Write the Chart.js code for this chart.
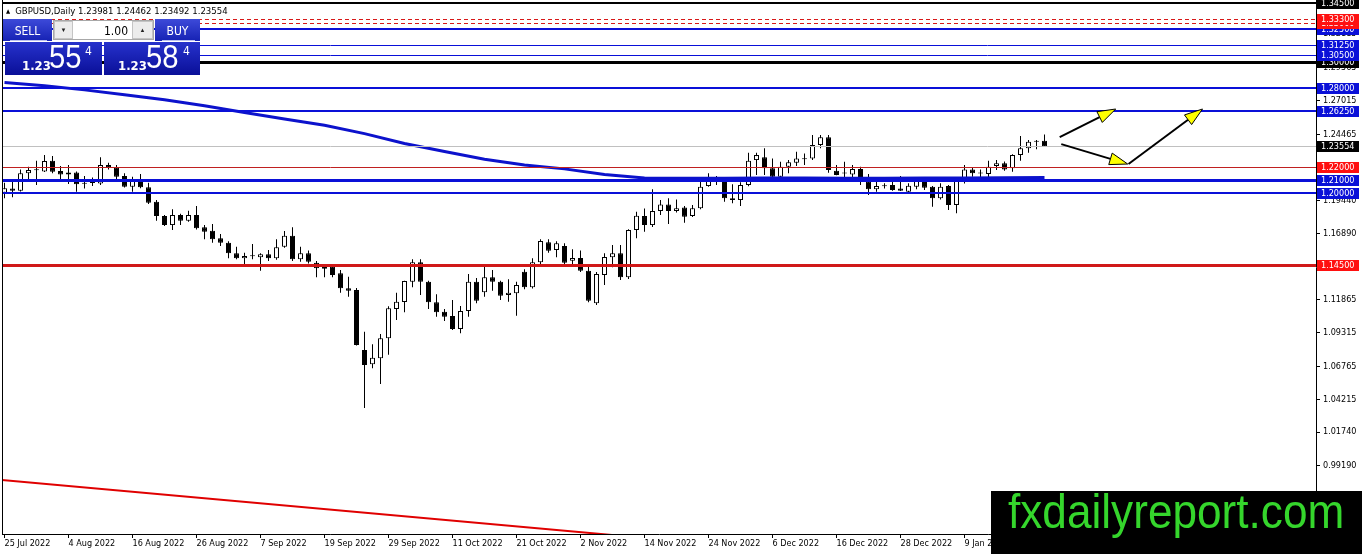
<!DOCTYPE html>
<html>
<head>
<meta charset="utf-8">
<title>GBPUSD Daily</title>
<script src="https://cdn.jsdelivr.net/npm/chart.js@4.4.0/dist/chart.umd.min.js"></script>
<style>
  html, body { margin: 0; padding: 0; background: #fff; }
  #wrap { position: relative; width: 1362px; height: 554px; overflow: hidden; }
  #wrap canvas { position: absolute; left: 0; top: 0; }
  .abs { position: absolute; white-space: nowrap; }
  .cond { font-family: 'DejaVu Sans Condensed', 'Liberation Sans', sans-serif; }
  #title { left: 6px; top: 6px; font-size: 9.5px; line-height: 10px; color: #000; }
  #title .tri { font-size: 6px; vertical-align: 1px; margin-right: 5px; }
  .btn { background: linear-gradient(#3d4ad9, #1622b4); color: #fff; font-size: 12px; line-height: 12px; text-align: center; }
  .btn .sep { position: absolute; left: 7px; right: 5px; bottom: 0; height: 1px; background: #b9c0f0; }
  .btn span { position: absolute; left: 0; right: 0; top: 6px; }
  .price { background: linear-gradient(#2632cc, #0a0f98); color: #fff; }
  .spin { background: #fff; border: 1px solid #a8a8a8; box-sizing: border-box; }
  .arrowbtn { background: #ececec; border: 1px solid #c4c4c4; box-sizing: border-box; font-size: 6px; line-height: 16px; text-align: center; color: #222; }
  .big { font-family: 'Liberation Sans', Arial, sans-serif; font-size: 34px; line-height: 34px; transform: scaleX(0.86); transform-origin: left top; }
  .small { font-size: 13px; line-height: 13px; font-weight: bold; }
  .sup { font-size: 12px; line-height: 12px; }
  #brand { left: 991px; top: 491px; width: 371px; height: 63px; background: #000; }
  #brand span { position: absolute; left: 17px; top: -3px; font-family: 'Liberation Sans', Arial, sans-serif; font-size: 48px; line-height: 48px; color: #35d62c; transform: scaleX(0.92); transform-origin: left top; }
</style>
</head>
<body>
<div id="wrap">
  <canvas id="fx-chart" width="1362" height="554"></canvas>
  <div id="title" class="abs cond"><span class="tri">&#9650;</span><span id="title-text"></span></div>

  <div class="abs btn cond" style="left:3px; top:19px; width:49px; height:22px;"><span>SELL</span><div class="sep"></div></div>
  <div class="abs spin" style="left:53px; top:20px; width:101px; height:20px;"></div>
  <div class="abs arrowbtn" style="left:54px; top:21px; width:19px; height:18px;">&#9660;</div>
  <div class="abs cond" id="lots" style="left:88px; top:25px; width:40px; text-align:right; font-size:12px; line-height:12px;"></div>
  <div class="abs arrowbtn" style="left:132px; top:21px; width:21px; height:18px;">&#9650;</div>
  <div class="abs btn cond" style="left:155px; top:19px; width:45px; height:22px;"><span>BUY</span><div class="sep"></div></div>

  <div class="abs price" style="left:5px; top:42px; width:97px; height:33px;"></div>
  <div class="abs price" style="left:104px; top:42px; width:96px; height:33px;"></div>
  <div class="abs small cond" id="bid-a" style="left:22px; top:59px; color:#fff;"></div>
  <div class="abs big" id="bid-b" style="left:49px; top:39px; color:#fff;"></div>
  <div class="abs sup cond" id="bid-c" style="left:85px; top:45px; color:#fff;"></div>
  <div class="abs small cond" id="ask-a" style="left:118px; top:59px; color:#fff;"></div>
  <div class="abs big" id="ask-b" style="left:146px; top:39px; color:#fff;"></div>
  <div class="abs sup cond" id="ask-c" style="left:183px; top:45px; color:#fff;"></div>

  <div id="brand" class="abs"><span>fxdailyreport.com</span></div>
</div>

<script>
/* ============================================= */
/* GBPUSD DAILY - CANDLES, MA, LEVELS */
/* ============================================= */

const FONT = "'DejaVu Sans Condensed', 'Liberation Sans', sans-serif";

// ============ DATA ===========================//

const symbolName = "GBPUSD";
const timeframe = "Daily";
const lotSize = "1.00";

// x-axis date labels, one every 8 bars (bar index in dateTickIdx)
const dateTickIdx = [0, 8, 16, 24, 32, 40, 48, 56, 64, 72, 80, 88, 96, 104, 112, 120];
const dateLabels = ["25 Jul 2022", "4 Aug 2022", "16 Aug 2022", "26 Aug 2022", "7 Sep 2022",
  "19 Sep 2022", "29 Sep 2022", "11 Oct 2022", "21 Oct 2022", "2 Nov 2022", "14 Nov 2022",
  "24 Nov 2022", "6 Dec 2022", "16 Dec 2022", "28 Dec 2022", "9 Jan 2023"];

// right axis tick labels
const priceTicks = [1.32115, 1.29565, 1.27015, 1.24465, 1.21915, 1.19440, 1.16890,
  1.14340, 1.11865, 1.09315, 1.06765, 1.04215, 1.01740, 0.99190];

// daily candles, 25 Jul 2022 .. 23 Jan 2023
const opens = [
  1.2001, 1.2034, 1.2016, 1.2149, 1.2172, 1.2163, 1.2245, 1.2166, 1.2141, 1.2156,
  1.2070, 1.2076, 1.2072, 1.2212, 1.2195, 1.2128, 1.2047, 1.2092, 1.2042, 1.1932,
  1.1823, 1.1754, 1.1831, 1.1787, 1.1831, 1.1737, 1.1711, 1.1653, 1.1619, 1.1538,
  1.1500, 1.1516, 1.1508, 1.1531, 1.1500, 1.1589, 1.1673, 1.1493, 1.1538, 1.1467,
  1.1421, 1.1436, 1.1387, 1.1271, 1.1258, 1.0801, 1.0692, 1.0737, 1.0890, 1.1113,
  1.1167, 1.1322, 1.1470, 1.1322, 1.1165, 1.1093, 1.1060, 1.0961, 1.1098, 1.1322,
  1.1241, 1.1355, 1.1322, 1.1220, 1.1233, 1.1398, 1.1279, 1.1470, 1.1622, 1.1564,
  1.1594, 1.1482, 1.1502, 1.1405, 1.1157, 1.1373, 1.1508, 1.1538, 1.1355, 1.1716,
  1.1823, 1.1754, 1.1861, 1.1912, 1.1861, 1.1889, 1.1823, 1.1882, 1.2052, 1.2103,
  1.2098, 1.1958, 1.1945, 1.2060, 1.2250, 1.2271, 1.2187, 1.2123, 1.2199, 1.2229,
  1.2263, 1.2263, 1.2365, 1.2424, 1.2169, 1.2147, 1.2141, 1.2182, 1.2085, 1.2027,
  1.2050, 1.2060, 1.2034, 1.2008, 1.2047, 1.2092, 1.2047, 1.1958, 1.2052, 1.1907,
  1.2085, 1.2179, 1.2147, 1.2143, 1.2205, 1.2225, 1.2187, 1.2288, 1.2340, 1.2390,
  1.23981];
const highs = [
  1.2077, 1.2098, 1.2179, 1.2199, 1.2245, 1.2288, 1.2281, 1.2205, 1.2212, 1.2163,
  1.2128, 1.2118, 1.2271, 1.2230, 1.2212, 1.2149, 1.2123, 1.2143, 1.2077, 1.1945,
  1.1830, 1.1874, 1.1840, 1.1863, 1.1899, 1.1754, 1.1762, 1.1686, 1.1630, 1.1589,
  1.1543, 1.1609, 1.1539, 1.1564, 1.1645, 1.1709, 1.1737, 1.1589, 1.1560, 1.1480,
  1.1457, 1.1452, 1.1411, 1.1360, 1.1273, 1.0940, 1.0844, 1.0923, 1.1135, 1.1238,
  1.1330, 1.1493, 1.1493, 1.1330, 1.1226, 1.1114, 1.1182, 1.1136, 1.1380, 1.1350,
  1.1442, 1.1411, 1.1330, 1.1340, 1.1322, 1.1416, 1.1500, 1.1645, 1.1645, 1.1630,
  1.1615, 1.1569, 1.1559, 1.1441, 1.1395, 1.1538, 1.1602, 1.1602, 1.1723, 1.1856,
  1.1880, 1.2027, 1.1945, 1.1958, 1.1950, 1.1900, 1.1907, 1.2085, 1.2149, 1.2128,
  1.2111, 1.2065, 1.2080, 1.2306, 1.2306, 1.2340, 1.2263, 1.2237, 1.2250, 1.2314,
  1.2301, 1.2441, 1.2441, 1.2441, 1.2212, 1.2237, 1.2212, 1.2199, 1.2143, 1.2085,
  1.2073, 1.2098, 1.2128, 1.2073, 1.2118, 1.2103, 1.2052, 1.2073, 1.2060, 1.2113,
  1.2212, 1.2197, 1.2179, 1.2245, 1.2250, 1.2240, 1.2295, 1.2433, 1.2403, 1.2403,
  1.24462];
const lows = [
  1.1958, 1.1966, 1.2010, 1.2103, 1.2060, 1.2160, 1.2150, 1.2103, 1.2067, 1.2008,
  1.2034, 1.2052, 1.2060, 1.2179, 1.2103, 1.2040, 1.2008, 1.2035, 1.1915, 1.1787,
  1.1747, 1.1716, 1.1754, 1.1780, 1.1720, 1.1645, 1.1619, 1.1594, 1.1500, 1.1493,
  1.1441, 1.1493, 1.1405, 1.1480, 1.1490, 1.1580, 1.1480, 1.1474, 1.1460, 1.1355,
  1.1355, 1.1355, 1.1238, 1.1207, 1.0835, 1.0358, 1.0661, 1.0541, 1.0764, 1.1030,
  1.1088, 1.1279, 1.1220, 1.1114, 1.1055, 1.1022, 1.0953, 1.0928, 1.1055, 1.1157,
  1.1207, 1.1253, 1.1182, 1.1169, 1.1062, 1.1264, 1.1270, 1.1436, 1.1543, 1.1508,
  1.1455, 1.1441, 1.1395, 1.1165, 1.1144, 1.1297, 1.1432, 1.1335, 1.1343, 1.1653,
  1.1703, 1.1740, 1.1830, 1.1762, 1.1850, 1.1772, 1.1815, 1.1875, 1.2047, 1.2060,
  1.1932, 1.1920, 1.1899, 1.2050, 1.2136, 1.2136, 1.2110, 1.2110, 1.2149, 1.2205,
  1.2212, 1.2250, 1.2340, 1.2153, 1.2134, 1.2111, 1.2103, 1.2060, 1.1983, 1.2008,
  1.2034, 1.2016, 1.2014, 1.2004, 1.2027, 1.2021, 1.1894, 1.1950, 1.1869, 1.1844,
  1.2072, 1.2123, 1.2118, 1.2085, 1.2174, 1.2169, 1.2161, 1.2245, 1.2306, 1.2332,
  1.23492];
const closes = [
  1.2035, 1.2016, 1.2149, 1.2174, 1.2176, 1.2243, 1.2161, 1.2141, 1.2156, 1.2065,
  1.2076, 1.2080, 1.2212, 1.2195, 1.2123, 1.2047, 1.2092, 1.2042, 1.1925, 1.1823,
  1.1754, 1.1831, 1.1787, 1.1831, 1.1729, 1.1703, 1.1645, 1.1619, 1.1538, 1.1500,
  1.1518, 1.1518, 1.1531, 1.1500, 1.1584, 1.1673, 1.1493, 1.1538, 1.1474, 1.1424,
  1.1436, 1.1373, 1.1271, 1.1253, 1.0839, 1.0686, 1.0742, 1.0890, 1.1119, 1.1169,
  1.1327, 1.1470, 1.1322, 1.1165, 1.1088, 1.1055, 1.0961, 1.1098, 1.1322, 1.1177,
  1.1355, 1.1322, 1.1215, 1.1238, 1.1297, 1.1279, 1.1470, 1.1632, 1.1558, 1.1615,
  1.1467, 1.1502, 1.1405, 1.1177, 1.1380, 1.1510, 1.1538, 1.1355, 1.1716, 1.1825,
  1.1754, 1.1861, 1.1912, 1.1861, 1.1882, 1.1818, 1.1882, 1.2047, 1.2098, 1.2085,
  1.1958, 1.1945, 1.2060, 1.2245, 1.2288, 1.2187, 1.2123, 1.2199, 1.2233, 1.2263,
  1.2256, 1.2365, 1.2424, 1.2174, 1.2136, 1.2151, 1.2182, 1.2082, 1.2027, 1.2052,
  1.2054, 1.2021, 1.2016, 1.2054, 1.2093, 1.2039, 1.1958, 1.2047, 1.1907, 1.2092,
  1.2179, 1.2149, 1.2151, 1.2199, 1.2225, 1.2179, 1.2288, 1.2340, 1.2390, 1.2395,
  1.23554];

// moving average, sampled every 5 bars
const maIdx = [0, 5, 10, 15, 20, 25, 30, 35, 40, 45, 50, 55, 60, 65, 70, 75, 80, 85,
  90, 95, 100, 105, 110, 115, 120, 125, 130];
const maVals = [1.2843, 1.2818, 1.2786, 1.2749, 1.2711, 1.2664, 1.2613, 1.2564, 1.2516,
  1.2452, 1.2377, 1.2315, 1.2257, 1.2212, 1.2183, 1.2140, 1.2114, 1.2112, 1.2112,
  1.2113, 1.2113, 1.2112, 1.2112, 1.2113, 1.2113, 1.2115, 1.2118];

// falling trend line (bar index, price)
const trendIdx = [-0.5, 80];
const trendVals = [0.9810, 0.9366];

// horizontal levels; the bid line is the last close
const askPrice = 1.23584;
const levelPrices = [1.34500, 1.33300, 1.33000, 1.32500, 1.31250, 1.30500, 1.30000,
  1.28000, 1.26250, closes[closes.length - 1], 1.22000, 1.21000, 1.20000, 1.14500];

// projection arrows (bar index, price)
const arrowFrom = [[131.9, 1.2426], [132.1, 1.2372], [140.5, 1.2220]];
const arrowTo = [[138.9, 1.2640], [140.4, 1.2220], [149.75, 1.2640]];

// ============ STYLES ===========================//

const BLUE = "#0a10d8";
const levelStyles = [
  { line: "#000000", width: 2, dash: [], box: "#000000" },
  { line: "#d81818", width: 1, dash: [4, 3], box: "#ff1010" },
  { line: "#d81818", width: 1, dash: [4, 3], box: "#ff1010" },
  { line: BLUE, width: 2, dash: [], box: BLUE },
  { line: BLUE, width: 1, dash: [], box: BLUE },
  { line: BLUE, width: 1, dash: [], box: BLUE },
  { line: "#000000", width: 3, dash: [], box: "#000000" },
  { line: BLUE, width: 2, dash: [], box: BLUE },
  { line: BLUE, width: 2, dash: [], box: BLUE },
  { line: "#c0c0c0", width: 1, dash: [], box: "#000000" },
  { line: "#c02020", width: 1, dash: [], box: "#ff1010" },
  { line: BLUE, width: 3, dash: [], box: BLUE },
  { line: BLUE, width: 2, dash: [], box: BLUE },
  { line: "#d01818", width: 3, dash: [], box: "#ff1010" },
];
// which label boxes go on top of which
const boxOrder = [6, 5, 4, 3, 2, 1, 0, 7, 8, 10, 11, 12, 13, 9];

// ============ HEADER / PANEL TEXT ===========================//

const last = closes.length - 1;
document.getElementById("title-text").textContent =
  symbolName + "," + timeframe + "  " +
  [opens[last], highs[last], lows[last], closes[last]].map(v => v.toFixed(5)).join(" ");
document.getElementById("lots").textContent = lotSize;

const splitQuote = (v) => {
  const s = v.toFixed(5);
  return [s.slice(0, 4), s.slice(4, 6), s.slice(6)];
};
const bidParts = splitQuote(closes[last]);
const askParts = splitQuote(askPrice);
["a", "b", "c"].forEach((k, n) => {
  document.getElementById("bid-" + k).textContent = bidParts[n];
  document.getElementById("ask-" + k).textContent = askParts[n];
});

// ============ PLUGIN: LEVELS, ARROWS, LABEL BOXES ===========================//

function drawArrow(ctx, x1, y1, x2, y2) {
  const ang = Math.atan2(y2 - y1, x2 - x1);
  const len = 18, half = 6;
  const bx = x2 - len * Math.cos(ang);
  const by = y2 - len * Math.sin(ang);
  ctx.strokeStyle = "#000";
  ctx.lineWidth = 2;
  ctx.beginPath();
  ctx.moveTo(x1, y1);
  ctx.lineTo(bx, by);
  ctx.stroke();
  ctx.beginPath();
  ctx.moveTo(x2, y2);
  ctx.lineTo(bx + half * Math.sin(ang), by - half * Math.cos(ang));
  ctx.lineTo(bx - half * Math.sin(ang), by + half * Math.cos(ang));
  ctx.closePath();
  ctx.fillStyle = "#ffff00";
  ctx.fill();
  ctx.lineWidth = 1;
  ctx.stroke();
}

const mtOverlay = {
  id: "mtOverlay",
  afterDatasetsDraw(chart) {
    const { ctx, chartArea: a, scales } = chart;
    const xs = scales.x, ys = scales.y;
    ctx.save();
    ctx.beginPath();
    ctx.rect(a.left, a.top, a.right - a.left, a.bottom - a.top);
    ctx.clip();
    levelPrices.forEach((p, k) => {
      const st = levelStyles[k];
      let py = Math.round(ys.getPixelForValue(p));
      if (st.width % 2) py += 0.5;
      ctx.strokeStyle = st.line;
      ctx.lineWidth = st.width;
      ctx.setLineDash(st.dash);
      ctx.beginPath();
      ctx.moveTo(a.left, py);
      ctx.lineTo(a.right, py);
      ctx.stroke();
    });
    ctx.setLineDash([]);
    arrowFrom.forEach((f, k) => {
      drawArrow(ctx,
        xs.getPixelForValue(f[0]), ys.getPixelForValue(f[1]),
        xs.getPixelForValue(arrowTo[k][0]), ys.getPixelForValue(arrowTo[k][1]));
    });
    ctx.restore();

    // left frame line
    ctx.save();
    ctx.strokeStyle = "#000";
    ctx.lineWidth = 1;
    ctx.beginPath();
    ctx.moveTo(a.left + 0.5, a.top);
    ctx.lineTo(a.left + 0.5, a.bottom);
    ctx.stroke();
    ctx.restore();
  },
  afterDraw(chart) {
    const { ctx, chartArea: a, scales } = chart;
    const ys = scales.y;
    ctx.save();
    ctx.font = "9px " + FONT;
    ctx.textBaseline = "middle";
    ctx.textAlign = "left";
    boxOrder.forEach((k) => {
      const py = Math.round(ys.getPixelForValue(levelPrices[k]));
      ctx.fillStyle = levelStyles[k].box;
      ctx.fillRect(a.right + 1, py - 5, 42, 11);
      ctx.fillStyle = "#fff";
      ctx.fillText(levelPrices[k].toFixed(5), a.right + 5, py + 1);
    });
    ctx.restore();
  }
};

// ============ CHART ===========================//

Chart.defaults.font.family = FONT;
Chart.defaults.font.size = 9;
Chart.defaults.color = "#000";

const bodyColors = opens.map((o, i) => (closes[i] - o > 0.0012 ? "#ffffff" : "#000000"));

const fxCanvas = document.getElementById("fx-chart");

let fxChart = new Chart(fxCanvas, {
  type: "bar",
  data: {
    datasets: [
      {
        type: "line",
        label: "MA",
        data: maIdx.map((x, k) => ({ x: x, y: maVals[k] })),
        borderColor: "#0c12cc",
        borderWidth: 3,
        pointRadius: 0,
        tension: 0,
        order: 1,
      },
      {
        type: "line",
        label: "Trend",
        data: trendIdx.map((x, k) => ({ x: x, y: trendVals[k] })),
        borderColor: "#e00000",
        borderWidth: 2,
        pointRadius: 0,
        clip: 0,
        order: 1,
      },
      {
        label: "Body",
        data: opens.map((o, i) => ({ x: i, y: [o, closes[i]] })),
        backgroundColor: bodyColors,
        borderColor: "#000",
        borderWidth: 1,
        borderSkipped: false,
        barThickness: 5,
        minBarLength: 1,
        inflateAmount: 0,
        grouped: false,
        order: 2,
      },
      {
        label: "Wick",
        data: lows.map((l, i) => ({ x: i, y: [l, highs[i]] })),
        backgroundColor: "#000",
        borderWidth: 0,
        barThickness: 1,
        inflateAmount: 0,
        grouped: false,
        order: 3,
      },
    ],
  },
  options: {
    responsive: false,
    devicePixelRatio: 1,
    animation: false,
    layout: { padding: { left: 2, right: 0, top: 0, bottom: 0 } },
    plugins: {
      legend: { display: false },
      tooltip: { enabled: false },
    },
    scales: {
      x: {
        type: "linear",
        min: -0.3125,
        max: 163.9375,
        offset: false,
        afterBuildTicks: (s) => { s.ticks = dateTickIdx.map((v) => ({ value: v })); },
        afterFit: (s) => { s.height = 20; s.paddingLeft = 0; s.paddingRight = 0; },
        ticks: {
          callback: (v, i) => dateLabels[i],
          align: "start",
          autoSkip: false,
          maxRotation: 0,
          padding: 0,
          color: "#000",
        },
        grid: { drawOnChartArea: false, drawTicks: true, tickLength: 4, color: "#000", offset: false },
        border: { color: "#000", width: 1 },
      },
      y: {
        position: "right",
        min: 0.9396,
        max: 1.3472,
        afterBuildTicks: (s) => { s.ticks = priceTicks.map((v) => ({ value: v })); },
        afterFit: (s) => { s.width = 46; s.paddingTop = 0; s.paddingBottom = 0; },
        ticks: {
          callback: (v) => v.toFixed(5),
          autoSkip: false,
          padding: 3,
          color: "#000",
        },
        grid: { drawOnChartArea: false, drawTicks: true, tickLength: 4, color: "#000" },
        border: { color: "#000", width: 1 },
      },
    },
  },
  plugins: [mtOverlay],
});
</script>
</body>
</html>
